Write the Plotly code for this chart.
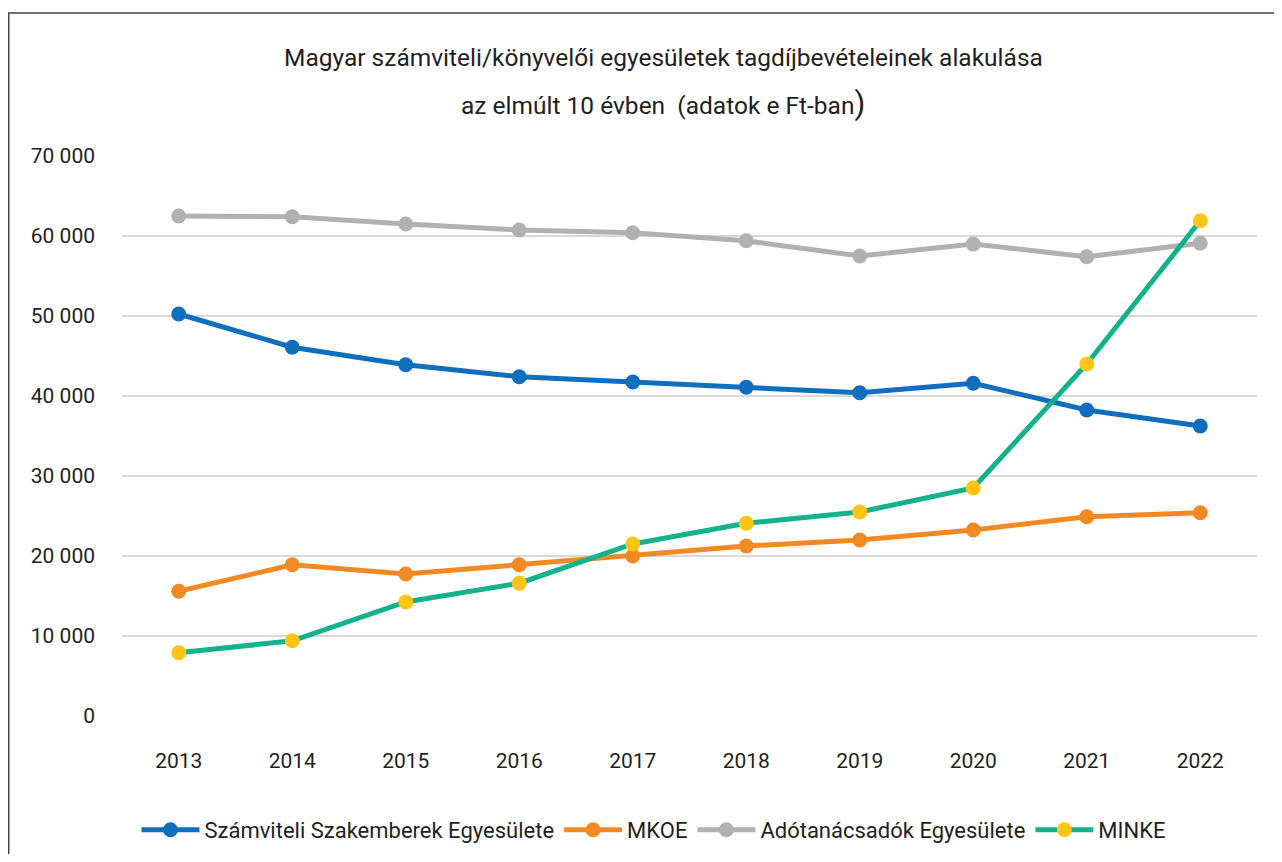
import plotly.graph_objects as go

years = ["2013", "2014", "2015", "2016", "2017", "2018", "2019", "2020", "2021", "2022"]
szakemberek = [50250, 46100, 43900, 42400, 41750, 41100, 40400, 41600, 38250, 36250]
mkoe = [15600, 18900, 17750, 18900, 20000, 21250, 22000, 23250, 24900, 25400]
adotanacsadok = [62500, 62400, 61500, 60750, 60400, 59400, 57500, 59000, 57400, 59100]
minke = [7900, 9400, 14250, 16600, 21500, 24100, 25500, 28500, 44000, 61900]

names = ["Számviteli Szakemberek Egyesülete", "MKOE", "Adótanácsadók Egyesülete", "MINKE"]
y_ticks = [0, 10000, 20000, 30000, 40000, 50000, 60000, 70000]
title_line1 = "Magyar számviteli/könyvelői egyesületek tagdíjbevételeinek alakulása"
title_line2 = "az elmúlt 10 évben  (adatok e Ft-ban<span style='font-size:31px'>)</span>"

FONT = "Roboto, sans-serif"
TXT = "#231f20"

fig = go.Figure()
series = [
    (names[0], szakemberek, "#106EBE", "#106EBE"),
    (names[1], mkoe, "#F28A24", "#F28A24"),
    (names[2], adotanacsadok, "#B1B1B4", "#B1B1B4"),
    (names[3], minke, "#12B28C", "#FFC414"),
]
for name, vals, lc, mc in series:
    fig.add_trace(go.Scatter(
        x=years, y=vals, name=name, mode="lines+markers",
        line=dict(color=lc, width=5),
        marker=dict(color=mc, size=15),
    ))

fig.update_layout(
    width=1266, height=846,
    margin=dict(l=114, r=17, t=148, b=138),
    paper_bgcolor="white", plot_bgcolor="white",
    separators=", ",
    font=dict(family=FONT, size=21, color=TXT),
    showlegend=True,
    legend=dict(
        orientation="h", xref="paper", x=0.4687, xanchor="center",
        yref="container", y=0.0284, yanchor="middle",
        font=dict(family=FONT, size=22, color=TXT),
        itemwidth=58, traceorder="normal",
    ),
    annotations=[
        dict(text=title_line1, xref="paper", yref="paper", x=0.477, y=1.175,
             xanchor="center", yanchor="middle", showarrow=False,
             font=dict(family=FONT, size=24.5, color=TXT)),
        dict(text=title_line2, xref="paper", yref="paper", x=0.477, y=1.0946,
             xanchor="center", yanchor="middle", showarrow=False,
             font=dict(family=FONT, size=24.5, color=TXT)),
    ],
    xaxis=dict(
        type="category", range=[-0.5, 9.5], showgrid=False, zeroline=False,
        showline=False, ticks="", ticklabelstandoff=30,
        tickfont=dict(family=FONT, size=21, color=TXT),
    ),
    yaxis=dict(
        range=[0, 70000], tickvals=y_ticks, tickformat=",d",
        showgrid=True, gridcolor="#d9d9d9", gridwidth=1.5,
        zeroline=False, showline=False, ticks="", ticklabelstandoff=26,
        tickfont=dict(family=FONT, size=21, color=TXT),
    ),
    shapes=[dict(
        type="rect", xref="paper", yref="paper",
        x0=-0.0998, x1=1.03, y0=-0.3, y1=1.2554,
        line=dict(color="#444444", width=1.5), fillcolor="rgba(0,0,0,0)", layer="below",
    )],
)

fig.write_html("out.html")
